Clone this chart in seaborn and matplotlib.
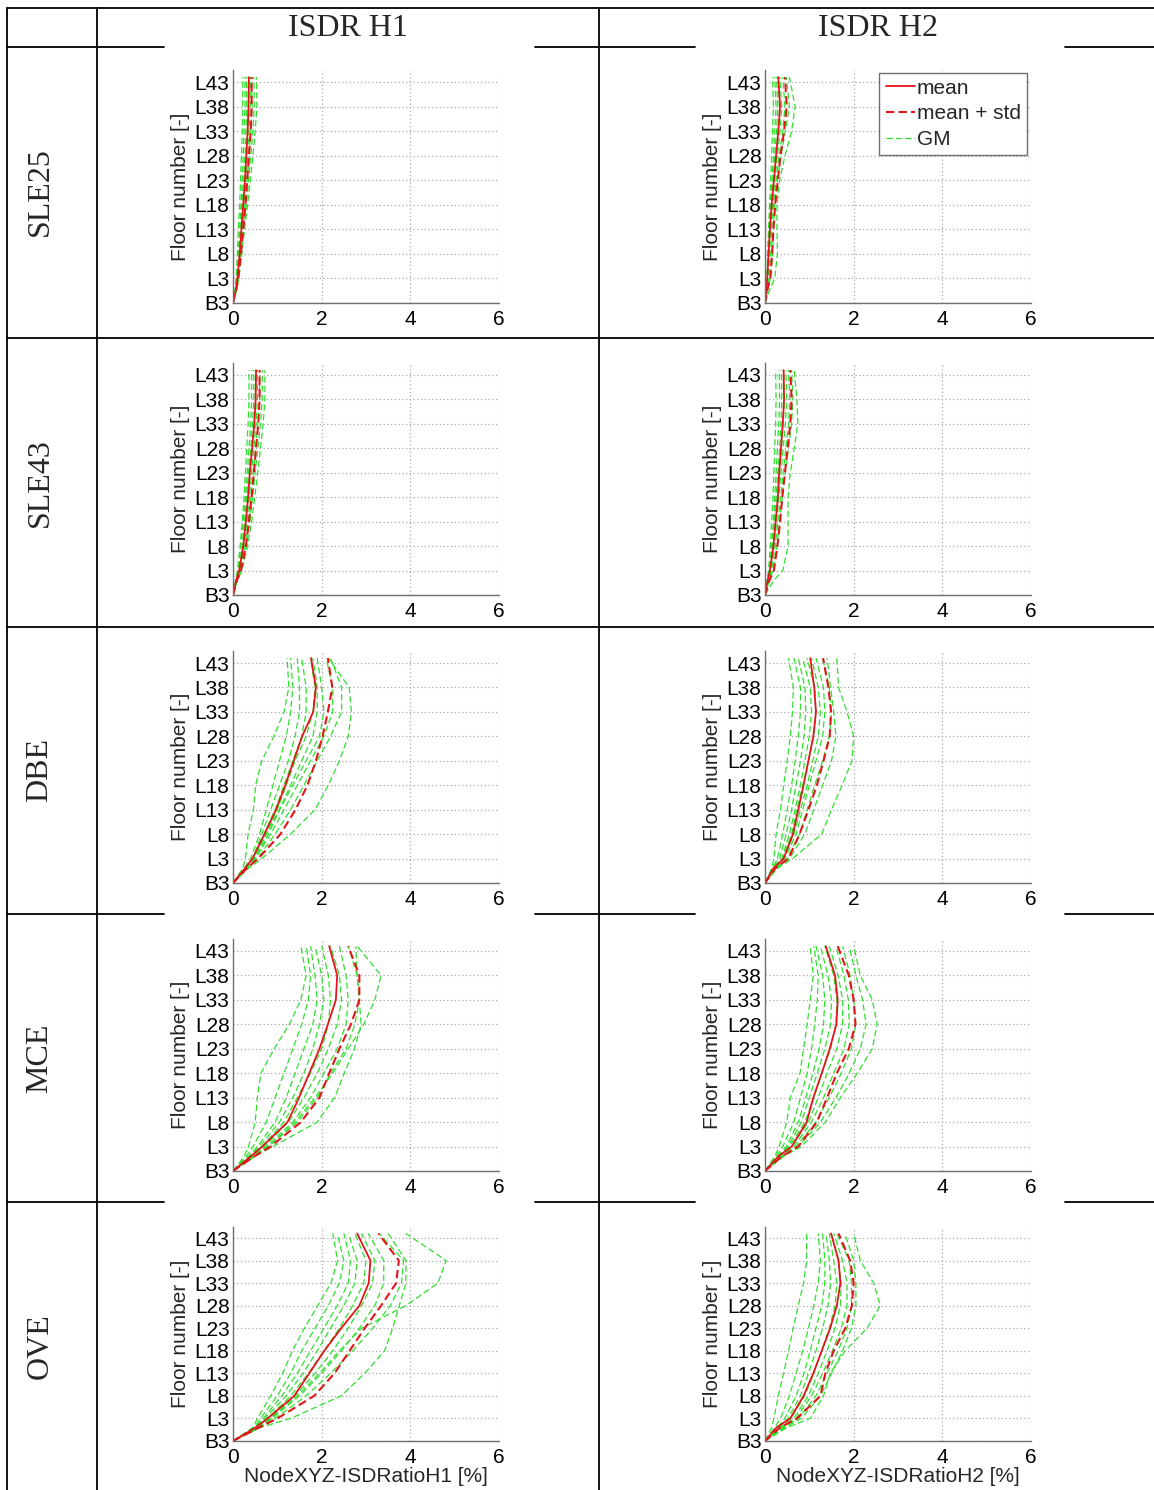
import pandas as pd
import matplotlib
matplotlib.use('Agg')
import matplotlib.pyplot as plt
from matplotlib.lines import Line2D
import seaborn as sns

# floor index: B3 = 0, L3 = 5, ... L43 = 45, roof = 46
FLOORS = [0, 3, 5, 10, 15, 20, 25, 30, 35, 40, 46]
FLOOR_TICKS = [0, 5, 10, 15, 20, 25, 30, 35, 40, 45]
FLOOR_LABELS = ['B3', 'L3', 'L8', 'L13', 'L18', 'L23', 'L28', 'L33', 'L38', 'L43']
DRIFT_TICKS = [0, 2, 4, 6]

ROW_NAMES = ['SLE25', 'SLE43', 'DBE', 'MCE', 'OVE']
COL_NAMES = ['ISDR H1', 'ISDR H2']
X_LABELS = ['NodeXYZ-ISDRatioH1 [%]', 'NodeXYZ-ISDRatioH2 [%]']
LEGEND_LABELS = ['mean', 'mean + std', 'GM']

# ---- SLE25 ----
SLE25_H1_MEAN = [0, 0.07, 0.10, 0.15, 0.19, 0.23, 0.27, 0.30, 0.33, 0.35, 0.36]
SLE25_H1_STD = [0, 0.08, 0.12, 0.18, 0.23, 0.28, 0.32, 0.36, 0.40, 0.42, 0.42]
SLE25_H1_GM = [
    [0, 0.05, 0.07, 0.10, 0.12, 0.15, 0.17, 0.19, 0.21, 0.22, 0.22],
    [0, 0.06, 0.08, 0.12, 0.15, 0.18, 0.21, 0.23, 0.25, 0.27, 0.27],
    [0, 0.06, 0.09, 0.13, 0.17, 0.20, 0.24, 0.27, 0.29, 0.31, 0.30],
    [0, 0.07, 0.10, 0.15, 0.19, 0.23, 0.27, 0.30, 0.33, 0.35, 0.34],
    [0, 0.07, 0.11, 0.16, 0.21, 0.25, 0.29, 0.33, 0.36, 0.39, 0.39],
    [0, 0.08, 0.12, 0.17, 0.22, 0.27, 0.32, 0.36, 0.40, 0.43, 0.42],
    [0, 0.08, 0.12, 0.18, 0.24, 0.30, 0.35, 0.40, 0.45, 0.48, 0.47],
    [0, 0.09, 0.13, 0.20, 0.26, 0.33, 0.39, 0.45, 0.50, 0.54, 0.53],
]
SLE25_H2_MEAN = [0, 0.03, 0.05, 0.08, 0.11, 0.15, 0.20, 0.25, 0.30, 0.34, 0.30]
SLE25_H2_STD = [0, 0.06, 0.12, 0.16, 0.19, 0.23, 0.29, 0.35, 0.43, 0.49, 0.45]
SLE25_H2_GM = [
    [0, 0.03, 0.04, 0.06, 0.08, 0.10, 0.13, 0.15, 0.17, 0.19, 0.17],
    [0, 0.03, 0.05, 0.07, 0.09, 0.12, 0.16, 0.19, 0.22, 0.25, 0.22],
    [0, 0.04, 0.05, 0.08, 0.10, 0.14, 0.18, 0.22, 0.26, 0.29, 0.26],
    [0, 0.04, 0.06, 0.09, 0.12, 0.16, 0.21, 0.26, 0.30, 0.33, 0.29],
    [0, 0.05, 0.07, 0.10, 0.13, 0.17, 0.22, 0.28, 0.34, 0.38, 0.33],
    [0, 0.06, 0.09, 0.13, 0.15, 0.19, 0.25, 0.32, 0.40, 0.45, 0.40],
    [0, 0.07, 0.12, 0.17, 0.19, 0.22, 0.28, 0.36, 0.46, 0.55, 0.48],
    [0, 0.12, 0.22, 0.28, 0.27, 0.27, 0.33, 0.45, 0.60, 0.68, 0.55],
]

# ---- SLE43 ----
SLE43_H1_MEAN = [0, 0.07, 0.14, 0.23, 0.29, 0.34, 0.38, 0.43, 0.48, 0.51, 0.52]
SLE43_H1_STD = [0, 0.09, 0.18, 0.29, 0.36, 0.42, 0.47, 0.52, 0.57, 0.60, 0.60]
SLE43_H1_GM = [
    [0, 0.06, 0.10, 0.16, 0.21, 0.25, 0.28, 0.31, 0.34, 0.36, 0.36],
    [0, 0.06, 0.11, 0.18, 0.23, 0.28, 0.32, 0.36, 0.40, 0.42, 0.42],
    [0, 0.07, 0.13, 0.21, 0.26, 0.31, 0.35, 0.40, 0.44, 0.47, 0.47],
    [0, 0.07, 0.14, 0.23, 0.29, 0.34, 0.38, 0.43, 0.48, 0.51, 0.51],
    [0, 0.08, 0.15, 0.25, 0.31, 0.37, 0.42, 0.47, 0.52, 0.55, 0.55],
    [0, 0.08, 0.16, 0.27, 0.34, 0.40, 0.46, 0.51, 0.56, 0.60, 0.60],
    [0, 0.09, 0.18, 0.30, 0.38, 0.44, 0.50, 0.56, 0.62, 0.66, 0.66],
    [0, 0.10, 0.20, 0.33, 0.42, 0.49, 0.56, 0.62, 0.68, 0.72, 0.72],
]
SLE43_H2_MEAN = [0, 0.06, 0.11, 0.19, 0.24, 0.29, 0.32, 0.36, 0.40, 0.43, 0.42]
SLE43_H2_STD = [0, 0.10, 0.20, 0.28, 0.34, 0.39, 0.45, 0.51, 0.57, 0.60, 0.57]
SLE43_H2_GM = [
    [0, 0.05, 0.08, 0.12, 0.15, 0.18, 0.20, 0.22, 0.24, 0.25, 0.24],
    [0, 0.05, 0.09, 0.15, 0.19, 0.22, 0.25, 0.28, 0.31, 0.33, 0.32],
    [0, 0.06, 0.10, 0.17, 0.21, 0.25, 0.29, 0.33, 0.36, 0.38, 0.37],
    [0, 0.06, 0.11, 0.18, 0.23, 0.28, 0.32, 0.37, 0.41, 0.44, 0.42],
    [0, 0.07, 0.13, 0.20, 0.26, 0.31, 0.36, 0.41, 0.46, 0.49, 0.47],
    [0, 0.08, 0.15, 0.23, 0.29, 0.35, 0.41, 0.47, 0.53, 0.56, 0.53],
    [0, 0.10, 0.18, 0.27, 0.33, 0.39, 0.46, 0.53, 0.60, 0.63, 0.60],
    [0, 0.20, 0.40, 0.52, 0.52, 0.52, 0.57, 0.66, 0.74, 0.72, 0.66],
]

# ---- DBE ----
DBE_H1_MEAN = [0, 0.27, 0.44, 0.71, 0.97, 1.18, 1.37, 1.56, 1.81, 1.87, 1.76]
DBE_H1_STD = [0, 0.31, 0.57, 1.07, 1.41, 1.68, 1.87, 2.02, 2.14, 2.24, 2.14]
DBE_H1_GM = [
    [0, 0.22, 0.28, 0.34, 0.46, 0.51, 0.65, 0.92, 1.15, 1.26, 1.22],
    [0, 0.25, 0.40, 0.60, 0.75, 0.90, 1.05, 1.20, 1.30, 1.35, 1.30],
    [0, 0.28, 0.45, 0.65, 0.85, 1.05, 1.25, 1.40, 1.50, 1.50, 1.45],
    [0, 0.30, 0.45, 0.70, 0.95, 1.15, 1.35, 1.55, 1.65, 1.65, 1.55],
    [0, 0.30, 0.48, 0.75, 1.00, 1.20, 1.40, 1.65, 1.80, 1.85, 1.75],
    [0, 0.32, 0.50, 0.80, 1.05, 1.30, 1.55, 1.80, 1.90, 1.90, 1.80],
    [0, 0.30, 0.45, 0.75, 1.05, 1.35, 1.65, 1.95, 2.05, 2.00, 1.90],
    [0, 0.28, 0.50, 0.85, 1.15, 1.45, 1.75, 2.05, 2.25, 2.25, 2.10],
    [0, 0.30, 0.55, 0.95, 1.30, 1.60, 1.90, 2.20, 2.45, 2.45, 2.20],
    [0, 0.35, 0.65, 1.30, 1.85, 2.15, 2.40, 2.60, 2.67, 2.62, 2.15],
]
DBE_H2_MEAN = [0, 0.19, 0.42, 0.63, 0.75, 0.87, 0.98, 1.09, 1.15, 1.11, 1.02]
DBE_H2_STD = [0, 0.23, 0.53, 0.78, 0.98, 1.17, 1.32, 1.46, 1.49, 1.43, 1.31]
DBE_H2_GM = [
    [0, 0.15, 0.20, 0.25, 0.35, 0.42, 0.50, 0.57, 0.62, 0.64, 0.53],
    [0, 0.17, 0.28, 0.40, 0.50, 0.60, 0.68, 0.75, 0.80, 0.80, 0.65],
    [0, 0.18, 0.33, 0.48, 0.60, 0.70, 0.80, 0.88, 0.92, 0.90, 0.75],
    [0, 0.20, 0.38, 0.55, 0.68, 0.80, 0.90, 1.00, 1.05, 1.02, 0.85],
    [0, 0.20, 0.40, 0.60, 0.72, 0.85, 0.98, 1.10, 1.15, 1.12, 0.95],
    [0, 0.22, 0.42, 0.65, 0.80, 0.95, 1.08, 1.20, 1.25, 1.20, 1.05],
    [0, 0.22, 0.45, 0.70, 0.85, 1.00, 1.15, 1.30, 1.35, 1.32, 1.15],
    [0, 0.25, 0.50, 0.78, 0.95, 1.12, 1.30, 1.45, 1.50, 1.45, 1.30],
    [0, 0.25, 0.55, 0.90, 1.10, 1.30, 1.50, 1.60, 1.55, 1.48, 1.40],
    [0, 0.28, 0.62, 1.28, 1.50, 1.74, 1.96, 2.00, 1.85, 1.66, 1.62],
]

# ---- MCE ----
MCE_H1_MEAN = [0, 0.40, 0.66, 1.23, 1.49, 1.72, 1.95, 2.14, 2.32, 2.35, 2.17]
MCE_H1_STD = [0, 0.48, 0.85, 1.53, 1.95, 2.17, 2.40, 2.66, 2.85, 2.85, 2.60]
MCE_H1_GM = [
    [0, 0.25, 0.35, 0.50, 0.55, 0.63, 0.93, 1.27, 1.53, 1.65, 1.53],
    [0, 0.30, 0.45, 0.75, 0.95, 1.15, 1.35, 1.55, 1.70, 1.75, 1.65],
    [0, 0.35, 0.55, 0.95, 1.20, 1.40, 1.60, 1.80, 1.90, 1.85, 1.75],
    [0, 0.38, 0.60, 1.05, 1.35, 1.60, 1.80, 1.95, 2.05, 2.00, 1.85],
    [0, 0.40, 0.65, 1.15, 1.45, 1.75, 2.00, 2.15, 2.20, 2.15, 2.00],
    [0, 0.42, 0.70, 1.25, 1.60, 1.90, 2.15, 2.35, 2.45, 2.40, 2.20],
    [0, 0.45, 0.75, 1.35, 1.75, 2.05, 2.35, 2.55, 2.60, 2.55, 2.40],
    [0, 0.48, 0.80, 1.45, 1.90, 2.20, 2.55, 2.75, 2.85, 2.80, 2.60],
    [0, 0.50, 0.90, 1.90, 2.29, 2.51, 2.74, 2.89, 2.85, 2.80, 2.77],
    [0, 0.45, 0.80, 1.40, 1.85, 2.25, 2.60, 2.95, 3.20, 3.34, 2.80],
]
MCE_H2_MEAN = [0, 0.30, 0.60, 0.94, 1.09, 1.28, 1.46, 1.61, 1.64, 1.58, 1.37]
MCE_H2_STD = [0, 0.38, 0.75, 1.17, 1.40, 1.62, 1.89, 2.04, 2.00, 1.89, 1.64]
MCE_H2_GM = [
    [0, 0.22, 0.32, 0.49, 0.57, 0.79, 0.87, 0.95, 1.02, 1.09, 1.02],
    [0, 0.25, 0.40, 0.65, 0.80, 0.95, 1.05, 1.12, 1.18, 1.20, 1.10],
    [0, 0.28, 0.48, 0.75, 0.92, 1.08, 1.22, 1.32, 1.35, 1.30, 1.15],
    [0, 0.30, 0.52, 0.82, 1.00, 1.18, 1.35, 1.48, 1.50, 1.42, 1.25],
    [0, 0.32, 0.55, 0.90, 1.10, 1.28, 1.48, 1.60, 1.62, 1.55, 1.35],
    [0, 0.35, 0.60, 0.98, 1.20, 1.40, 1.62, 1.75, 1.75, 1.65, 1.45],
    [0, 0.36, 0.65, 1.05, 1.32, 1.55, 1.78, 1.90, 1.88, 1.78, 1.60],
    [0, 0.38, 0.70, 1.15, 1.45, 1.72, 1.95, 2.05, 2.00, 1.92, 1.75],
    [0, 0.40, 0.75, 1.25, 1.60, 1.90, 2.15, 2.28, 2.20, 2.05, 1.90],
    [0, 0.42, 0.82, 1.36, 1.70, 2.08, 2.42, 2.53, 2.42, 2.15, 2.00],
]

# ---- OVE ----
OVE_H1_MEAN = [0, 0.51, 0.78, 1.38, 1.72, 2.06, 2.44, 2.85, 3.06, 3.10, 2.80]
OVE_H1_STD = [0, 0.59, 1.00, 1.83, 2.29, 2.63, 2.97, 3.34, 3.68, 3.74, 3.28]
OVE_H1_GM = [
    [0, 0.45, 0.55, 0.85, 1.12, 1.34, 1.61, 1.91, 2.21, 2.36, 2.25],
    [0, 0.48, 0.62, 1.00, 1.30, 1.55, 1.85, 2.15, 2.40, 2.50, 2.35],
    [0, 0.50, 0.68, 1.10, 1.45, 1.75, 2.05, 2.35, 2.60, 2.65, 2.50],
    [0, 0.52, 0.72, 1.20, 1.58, 1.90, 2.20, 2.50, 2.75, 2.80, 2.60],
    [0, 0.55, 0.78, 1.30, 1.70, 2.05, 2.40, 2.70, 2.95, 3.00, 2.75],
    [0, 0.55, 0.82, 1.40, 1.85, 2.25, 2.60, 2.90, 3.15, 3.20, 2.90],
    [0, 0.58, 0.88, 1.50, 2.00, 2.45, 2.85, 3.20, 3.40, 3.40, 3.05],
    [0, 0.60, 0.95, 1.65, 2.20, 2.70, 3.15, 3.55, 3.80, 3.85, 3.30],
    [0, 0.62, 1.30, 2.44, 2.97, 3.42, 3.60, 3.75, 3.90, 3.90, 3.50],
    [0, 0.55, 0.85, 1.45, 1.95, 2.40, 2.90, 3.90, 4.62, 4.81, 3.90],
]
OVE_H2_MEAN = [0, 0.26, 0.57, 0.87, 1.09, 1.28, 1.47, 1.62, 1.70, 1.66, 1.49]
OVE_H2_STD = [0, 0.34, 0.72, 1.25, 1.36, 1.55, 1.81, 1.96, 2.00, 1.92, 1.66]
OVE_H2_GM = [
    [0, 0.15, 0.20, 0.30, 0.42, 0.53, 0.64, 0.75, 0.87, 0.94, 0.94],
    [0, 0.22, 0.35, 0.55, 0.70, 0.85, 0.98, 1.10, 1.20, 1.25, 1.20],
    [0, 0.28, 0.45, 0.70, 0.88, 1.02, 1.15, 1.28, 1.35, 1.35, 1.30],
    [0, 0.32, 0.52, 0.80, 0.98, 1.15, 1.30, 1.42, 1.48, 1.45, 1.38],
    [0, 0.35, 0.58, 0.90, 1.10, 1.28, 1.45, 1.58, 1.62, 1.55, 1.45],
    [0, 0.38, 0.65, 0.98, 1.20, 1.40, 1.58, 1.70, 1.72, 1.65, 1.50],
    [0, 0.40, 0.70, 1.05, 1.30, 1.52, 1.72, 1.85, 1.85, 1.75, 1.55],
    [0, 0.42, 0.75, 1.15, 1.40, 1.65, 1.85, 1.95, 1.95, 1.90, 1.62],
    [0, 0.45, 0.82, 1.25, 1.50, 1.75, 1.95, 2.05, 2.05, 2.00, 1.80],
    [0, 0.50, 1.02, 1.32, 1.47, 1.81, 2.30, 2.60, 2.45, 2.15, 2.00],
]

PANELS = [
    [(SLE25_H1_MEAN, SLE25_H1_STD, SLE25_H1_GM), (SLE25_H2_MEAN, SLE25_H2_STD, SLE25_H2_GM)],
    [(SLE43_H1_MEAN, SLE43_H1_STD, SLE43_H1_GM), (SLE43_H2_MEAN, SLE43_H2_STD, SLE43_H2_GM)],
    [(DBE_H1_MEAN, DBE_H1_STD, DBE_H1_GM), (DBE_H2_MEAN, DBE_H2_STD, DBE_H2_GM)],
    [(MCE_H1_MEAN, MCE_H1_STD, MCE_H1_GM), (MCE_H2_MEAN, MCE_H2_STD, MCE_H2_GM)],
    [(OVE_H1_MEAN, OVE_H1_STD, OVE_H1_GM), (OVE_H2_MEAN, OVE_H2_STD, OVE_H2_GM)],
]

RED = '#e3151b'
GREEN = '#2fe02f'
GRID = '#a8a8a8'
AXC = '#707070'
SANS = ['Liberation Sans', 'DejaVu Sans']
SERIF = ['Liberation Serif', 'DejaVu Serif']

# page geometry in pixels
W, H = 1154, 1490
COL_X0 = [233, 765]
AX_W = 266
ROW_B3 = [303, 595, 883, 1171, 1441]
ROW_L43 = [82, 375, 663, 951, 1238]
Y_TOP = 47.4

sns.set_style('white')
plt.rcParams['font.family'] = SANS

fig = plt.figure(figsize=(W / 100, H / 100), dpi=100)
fig.patch.set_facecolor('white')

# table grid drawn in pixel space
bg = fig.add_axes([0, 0, 1, 1], zorder=0)
bg.set_xlim(0, W)
bg.set_ylim(H, 0)
bg.axis('off')
tlw = 1.3
bg.plot([7, W], [8, 8], color='k', lw=tlw)
for yy in [338, 627]:
    bg.plot([7, W], [yy, yy], color='k', lw=tlw)
for yy in [47, 914, 1202]:
    for x0, x1 in [(7, 164), (535, 695), (1065, W)]:
        bg.plot([x0, x1], [yy, yy], color='k', lw=tlw)
for xx in [7, 97, 599]:
    bg.plot([xx, xx], [8, H], color='k', lw=tlw)

for c, name in enumerate(COL_NAMES):
    bg.text([348, 878][c], 28, name, ha='center', va='center',
            fontsize=23, family=SERIF)
row_cy = [192, 483, 770, 1058, 1346]
for r, name in enumerate(ROW_NAMES):
    bg.text(40, row_cy[r], name, ha='center', va='center', rotation=90,
            fontsize=23, family=SERIF)

for r in range(5):
    ppf = (ROW_B3[r] - ROW_L43[r]) / 45.0
    top_px = ROW_B3[r] - Y_TOP * ppf
    ax_h = ROW_B3[r] - top_px
    for c in range(2):
        mean, std, gms = PANELS[r][c]
        ax = fig.add_axes([COL_X0[c] / W, 1 - ROW_B3[r] / H, AX_W / W, ax_h / H], zorder=2)

        gm_df = pd.DataFrame(
            [(i, f, v) for i, g in enumerate(gms) for f, v in zip(FLOORS, g)],
            columns=['run', 'floor', 'drift'])
        sns.lineplot(data=gm_df, x='drift', y='floor', units='run', estimator=None,
                     sort=False, orient='y', color=GREEN, lw=0.9,
                     linestyle=(0, (5, 2.5)), legend=False, ax=ax)
        sns.lineplot(x=std, y=FLOORS, estimator=None, sort=False, orient='y',
                     color=RED, lw=1.5, linestyle=(0, (4, 2)), ax=ax)
        sns.lineplot(x=mean, y=FLOORS, estimator=None, sort=False, orient='y',
                     color=RED, lw=1.3, ax=ax)

        ax.set_xlim(0, 6)
        ax.set_ylim(0, Y_TOP)
        ax.set_xticks(DRIFT_TICKS)
        ax.set_xticklabels([str(t) for t in DRIFT_TICKS])
        ax.set_yticks(FLOOR_TICKS)
        ax.set_yticklabels(FLOOR_LABELS)
        ax.grid(True, linestyle=(0, (1, 2)), color=GRID, lw=0.9)
        ax.set_axisbelow(True)
        for s in ['top', 'right']:
            ax.spines[s].set_visible(False)
        for s in ['left', 'bottom']:
            ax.spines[s].set_color(AXC)
            ax.spines[s].set_linewidth(1.0)
        ax.tick_params(axis='both', direction='in', length=4, width=0.8,
                       color=AXC, labelsize=15, labelcolor='k')
        ax.tick_params(axis='x', pad=5)
        ax.tick_params(axis='y', pad=2.5)

        ax.set_ylabel('Floor number [-]', fontsize=15)
        ax.yaxis.set_label_coords(-0.199, 0.5)
        ax.yaxis.label.set_va('center')
        if r == 4:
            ax.set_xlabel(X_LABELS[c], fontsize=15)
            ax.xaxis.set_label_coords(0.5, -(1477 - ROW_B3[r]) / ax_h)
            ax.xaxis.label.set_va('center')
        else:
            ax.set_xlabel('')

        if r == 0 and c == 1:
            handles = [Line2D([], [], color=RED, lw=1.3),
                       Line2D([], [], color=RED, lw=1.5, linestyle=(0, (4, 2))),
                       Line2D([], [], color=GREEN, lw=0.9, linestyle=(0, (5, 2.5)))]
            ax.legend(handles, LEGEND_LABELS, loc='upper right',
                      bbox_to_anchor=(0.985, 0.99), frameon=True, fancybox=False,
                      framealpha=1, edgecolor=AXC, fontsize=15, handlelength=1.4,
                      handletextpad=0.1, labelspacing=0.32, borderpad=0.3,
                      borderaxespad=0)

fig.savefig('out.png', dpi=100, facecolor='white')
